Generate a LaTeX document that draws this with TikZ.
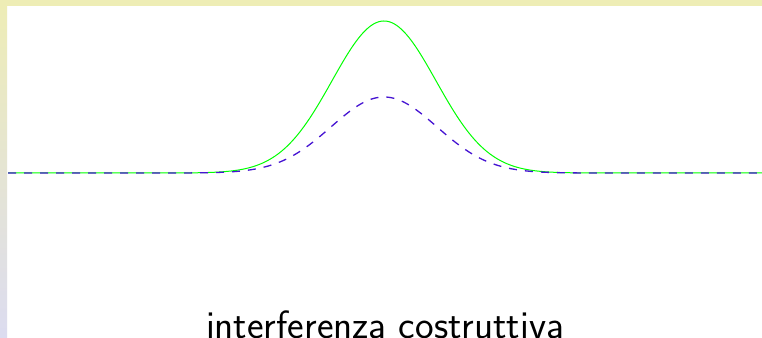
\documentclass[tikz,border=0pt]{standalone}
\usepackage{tikz}
\definecolor{bgyellow}{RGB}{238,237,181}
\definecolor{bglav}{RGB}{220,220,240}
\definecolor{wavegreen}{RGB}{0,255,0}
\definecolor{waveblue}{RGB}{70,20,210}
\tikzset{
  sumwave/.style={wavegreen, line width=1pt},
  onewave/.style={waveblue, line width=1.3pt, dash pattern=on 8pt off 8pt},
  caption/.style={font=\sffamily\fontsize{39.5}{44}\selectfont, anchor=base, inner sep=0pt}
}
\begin{document}
\begin{tikzpicture}[x=1pt,y=-1pt]
\useasboundingbox (0,0) rectangle (762,337);
\clip (0,0) rectangle (762,337);
\fill[white] (0,0) rectangle (762,337);
\shade[top color=bgyellow,bottom color=bglav] (0,0) rectangle (7,337);
\fill[bgyellow] (0,0) rectangle (762,6);
\draw[sumwave] plot[domain=8:762, samples=300, smooth] (\x, {173-152*exp(-0.5*((\x-384)/52)^2)});
\draw[onewave] plot[domain=8:762, samples=300, smooth] (\x, {173-76*exp(-0.5*((\x-384)/53)^2)});
\node[caption] (label) at (385,338) {interferenza costruttiva};
\end{tikzpicture}
\end{document}
